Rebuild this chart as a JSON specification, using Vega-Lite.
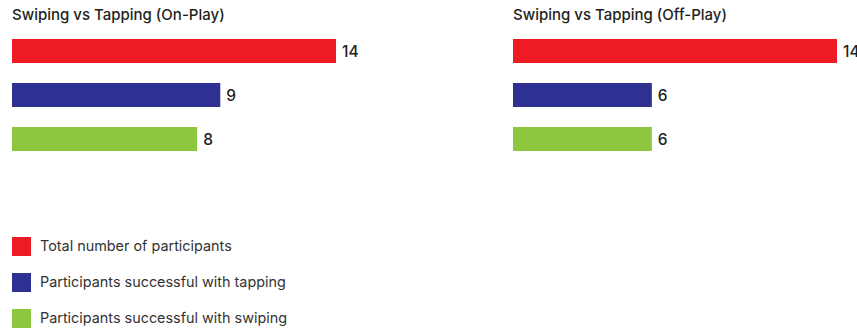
{
  "$schema": "https://vega.github.io/schema/vega-lite/v6.json",
  "padding": {"left": 12, "top": 8, "right": 0, "bottom": 0},
  "background": "white",
  "datasets": {
    "bars": [
      {"panel": "On-Play", "category": "Total number of participants", "value": 14},
      {"panel": "On-Play", "category": "Participants successful with tapping", "value": 9},
      {"panel": "On-Play", "category": "Participants successful with swiping", "value": 8},
      {"panel": "Off-Play", "category": "Total number of participants", "value": 14},
      {"panel": "Off-Play", "category": "Participants successful with tapping", "value": 6},
      {"panel": "Off-Play", "category": "Participants successful with swiping", "value": 6}
    ]
  },
  "data": {"name": "bars"},
  "spacing": 154,
  "config": {
    "view": {"stroke": null},
    "font": "Inter",
    "title": {"fontSize": 15, "fontWeight": 500, "color": "#231F20", "anchor": "start", "frame": "group", "offset": 6}
  },
  "hconcat": [
    {
      "width": 324,
      "height": 132,
      "title": "Swiping vs Tapping (On-Play)",
      "transform": [{"filter": "datum.panel === 'On-Play'"}],
      "encoding": {
        "y": {"field": "category", "type": "nominal", "axis": null,
              "sort": ["Total number of participants", "Participants successful with tapping", "Participants successful with swiping"],
              "scale": {"paddingInner": 0.4545, "paddingOuter": 0.227}},
        "x": {"field": "value", "type": "quantitative", "axis": null, "scale": {"domain": [0, 14], "nice": false}}
      },
      "layer": [
        {"mark": {"type": "bar"},
         "encoding": {"color": {"field": "category", "type": "nominal",
           "scale": {"domain": ["Total number of participants", "Participants successful with tapping", "Participants successful with swiping"],
                     "range": ["#ED1C24", "#2E3192", "#8DC63F"]},
           "legend": {"title": null, "orient": "none", "legendX": 0, "legendY": 208, "symbolType": "square", "symbolSize": 361,
                      "symbolStrokeWidth": 0, "symbolOpacity": 1, "labelFontSize": 14.4, "labelColor": "#333333", "labelFont": "Inter",
                      "rowPadding": 17, "labelOffset": 9, "labelLimit": 400}}}},
        {"mark": {"type": "text", "align": "left", "dx": 6, "dy": 1, "fontSize": 15.5, "fontWeight": 500, "color": "#231F20"},
         "encoding": {"text": {"field": "value", "type": "quantitative"}}}
      ]
    },
    {
      "width": 324,
      "height": 132,
      "title": "Swiping vs Tapping (Off-Play)",
      "transform": [{"filter": "datum.panel === 'Off-Play'"}],
      "encoding": {
        "y": {"field": "category", "type": "nominal", "axis": null,
              "sort": ["Total number of participants", "Participants successful with tapping", "Participants successful with swiping"],
              "scale": {"paddingInner": 0.4545, "paddingOuter": 0.227}},
        "x": {"field": "value", "type": "quantitative", "axis": null, "scale": {"domain": [0, 14], "nice": false}}
      },
      "layer": [
        {"mark": {"type": "bar"},
         "encoding": {"color": {"field": "category", "type": "nominal",
           "scale": {"domain": ["Total number of participants", "Participants successful with tapping", "Participants successful with swiping"],
                     "range": ["#ED1C24", "#2E3192", "#8DC63F"]}}}},
        {"mark": {"type": "text", "align": "left", "dx": 6, "dy": 1, "fontSize": 15.5, "fontWeight": 500, "color": "#231F20"},
         "encoding": {"text": {"field": "value", "type": "quantitative"}}}
      ]
    }
  ]
}
